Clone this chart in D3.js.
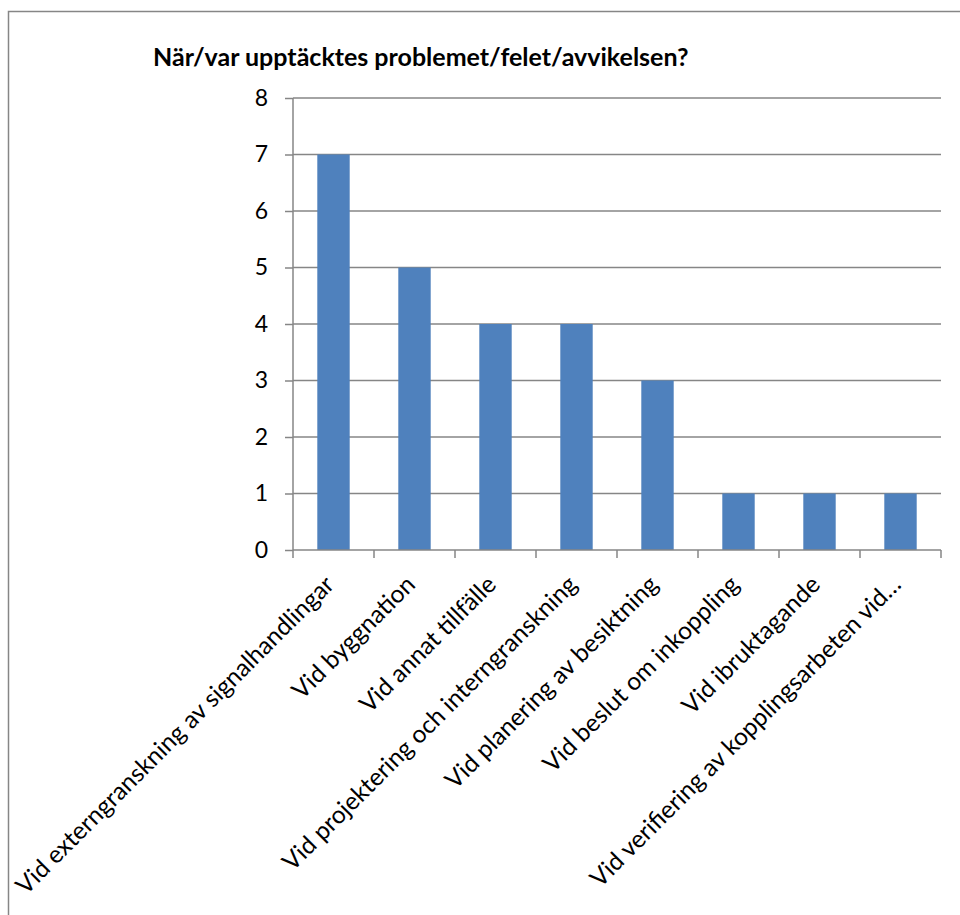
<!DOCTYPE html>
<html>
<head>
<meta charset="utf-8">
<script src="https://cdn.jsdelivr.net/npm/d3@7"></script>
<style>
  body { margin: 0; background: #fff; }
  svg { display: block; font-family: Lato, "Open Sans", sans-serif; }
</style>
</head>
<body>
<div id="container"></div>
<script>
// chart data
const categories = [
    "Vid externgranskning av signalhandlingar",
    "Vid byggnation",
    "Vid annat tillfälle",
    "Vid projektering och interngranskning",
    "Vid planering av besiktning",
    "Vid beslut om inkoppling",
    "Vid ibruktagande",
    "Vid verifiering av kopplingsarbeten vid…"
];
const counts = [7, 5, 4, 4, 3, 1, 1, 1];
const yTicks = [0, 1, 2, 3, 4, 5, 6, 7, 8];
const title = "När/var upptäcktes problemet/felet/avvikelsen?";

const width = 960;
const height = 915;
const plotLeft = 293;
const plotRight = 941;
const plotTop = 98;
const plotBottom = 550;
const gray = "#868686";

const svg = d3.create("svg")
    .attr("width", width)
    .attr("height", height);

// outer chart border
svg.append("rect")
    .attr("x", 8.5)
    .attr("y", 11.5)
    .attr("width", 1000)
    .attr("height", 1000)
    .attr("fill", "none")
    .attr("stroke", gray)
    .attr("stroke-width", 1.5);

svg.append("text")
    .attr("x", 153)
    .attr("y", 66)
    .attr("font-size", "25px")
    .attr("font-weight", "bold")
    .attr("fill", "#000")
    .text(title);

const x = d3.scaleBand()
    .domain(categories)
    .range([plotLeft, plotRight])
    .paddingInner(0.6)
    .paddingOuter(0.3);

const y = d3.scaleLinear()
    .domain([0, 8])
    .range([plotBottom, plotTop]);

// gridlines
svg.append("g")
    .selectAll("line")
    .data(yTicks.filter(d => d > 0))
    .join("line")
    .attr("x1", plotLeft)
    .attr("x2", plotRight)
    .attr("y1", d => y(d))
    .attr("y2", d => y(d))
    .attr("stroke", gray)
    .attr("stroke-width", 1.5);

// bars
svg.append("g")
    .selectAll("rect")
    .data(counts)
    .join("rect")
    .attr("x", (d, i) => x(categories[i]))
    .attr("y", d => y(d))
    .attr("width", x.bandwidth())
    .attr("height", d => y(0) - y(d))
    .attr("fill", "#4f81bd");

// y axis
const yAxis = svg.append("g")
    .attr("transform", `translate(${plotLeft},0)`)
    .call(d3.axisLeft(y).tickValues(yTicks).tickSize(8).tickPadding(17));
yAxis.selectAll("path, line").attr("stroke", gray).attr("stroke-width", 1.5);
yAxis.select(".domain").attr("d", `M0,${plotBottom}V${plotTop}`);
yAxis.selectAll("text")
    .attr("font-family", "Lato, sans-serif")
    .attr("font-size", "23px")
    .attr("fill", "#000");

// x axis: ticks sit at category boundaries
const step = x.step();
const boundaries = d3.range(categories.length + 1).map(i => plotLeft + i * step);
svg.append("line")
    .attr("x1", plotLeft)
    .attr("x2", plotRight)
    .attr("y1", plotBottom)
    .attr("y2", plotBottom)
    .attr("stroke", gray)
    .attr("stroke-width", 1.5);
svg.append("g")
    .selectAll("line")
    .data(boundaries)
    .join("line")
    .attr("x1", d => d)
    .attr("x2", d => d)
    .attr("y1", plotBottom)
    .attr("y2", plotBottom + 8)
    .attr("stroke", gray)
    .attr("stroke-width", 1.5);

svg.append("g")
    .selectAll("text")
    .data(categories)
    .join("text")
    .attr("transform", d => `translate(${x(d) + x.bandwidth() / 2 - 4},${plotBottom + 30}) rotate(-45)`)
    .attr("text-anchor", "end")
    .attr("dy", "0.35em")
    .attr("font-size", "24.5px")
    .attr("fill", "#000")
    .text(d => d);

d3.select("#container").append(() => svg.node());
</script>
</body>
</html>
